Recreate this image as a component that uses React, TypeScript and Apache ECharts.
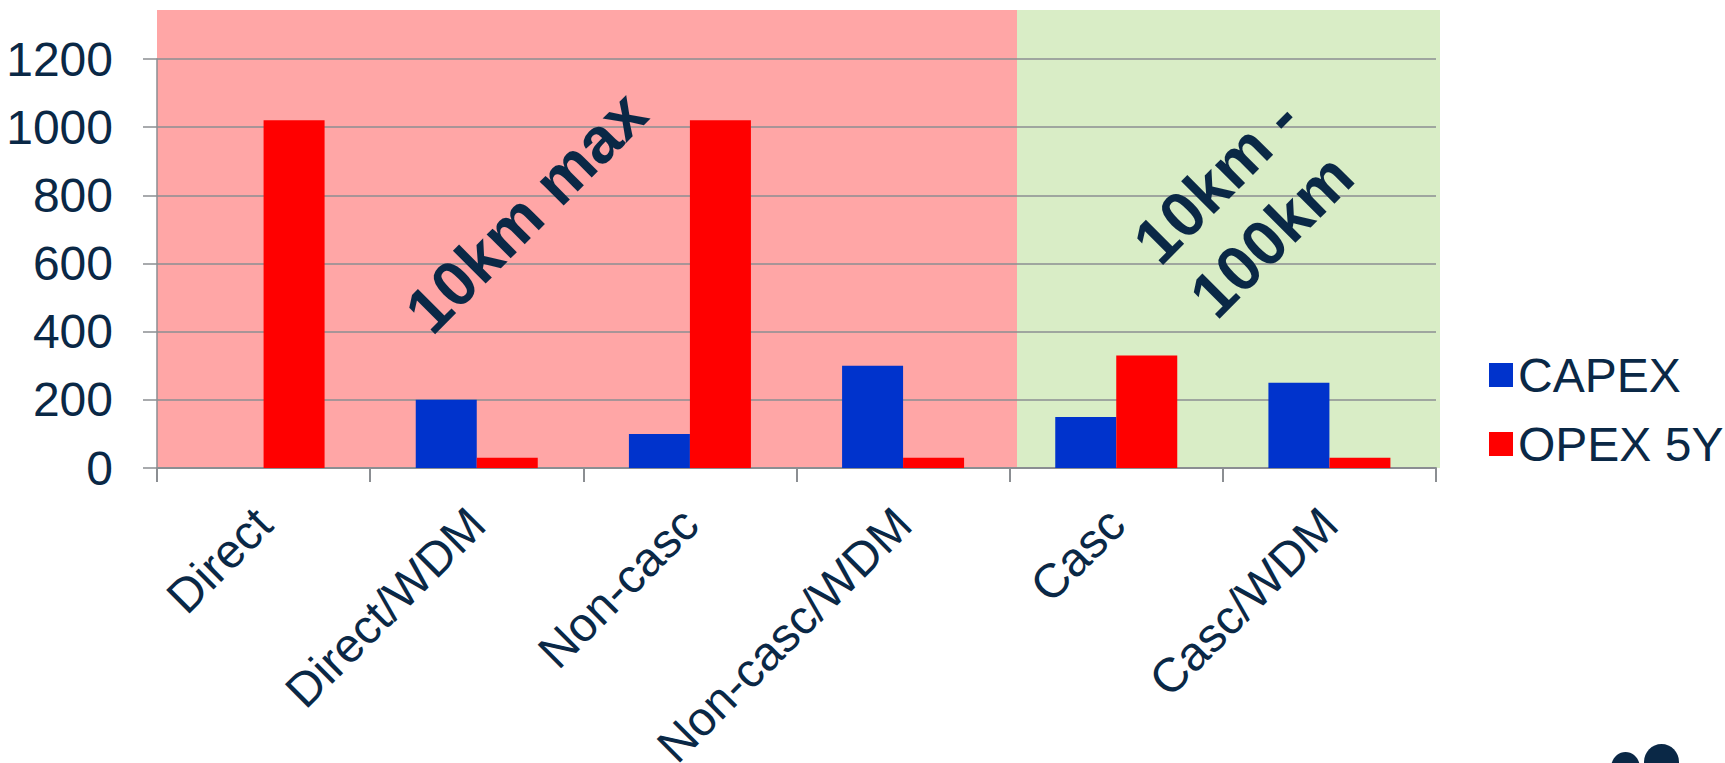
import React, { useEffect, useRef } from "react";
import * as echarts from "echarts";

const categories = ["Direct", "Direct/WDM", "Non-casc", "Non-casc/WDM", "Casc", "Casc/WDM"];
const capex = [0, 200, 100, 300, 150, 250];
const opex5y = [1020, 30, 1020, 30, 330, 30];
const seriesNames = ["CAPEX", "OPEX 5Y"];
const yTicks = { min: 0, max: 1200, interval: 200 };
const regionLabels = ["10km max", "10km -\n100km"];

const NAVY = "#0a2846";
const GRAY = "#8b8e92";
const FONT = 'Arial, "Liberation Sans", sans-serif';

export default function App() {
  const ref = useRef<HTMLDivElement>(null);
  useEffect(() => {
    if (!ref.current) return;
    const chart = echarts.init(ref.current, null, { renderer: "svg" });
    chart.setOption({
      animation: false,
      backgroundColor: "#ffffff",
      textStyle: { fontFamily: FONT },
      grid: { left: 157, right: 289, top: 59, bottom: 295, containLabel: false, outerBoundsMode: "none" },
      legend: {
        orient: "vertical",
        left: 1484,
        top: 346,
        icon: "rect",
        itemWidth: 24,
        itemHeight: 24,
        itemGap: 21,
        data: seriesNames,
        textStyle: { color: NAVY, fontSize: 48, fontFamily: FONT, lineHeight: 48 },
      },
      xAxis: {
        type: "category",
        data: categories,
        axisLine: { lineStyle: { color: GRAY, width: 2 } },
        axisTick: { show: true, length: 14, alignWithLabel: false, lineStyle: { color: GRAY, width: 2 } },
        axisLabel: { rotate: 45, interval: 0, margin: 48, fontSize: 48, color: NAVY, fontFamily: FONT },
      },
      yAxis: {
        type: "value",
        min: yTicks.min,
        max: yTicks.max,
        interval: yTicks.interval,
        axisLine: { show: true, lineStyle: { color: GRAY, width: 1.5 } },
        axisTick: { show: true, length: 14, lineStyle: { color: GRAY, width: 1.5 } },
        axisLabel: {
          margin: 44,
          fontSize: 48,
          color: NAVY,
          fontFamily: FONT,
          formatter: (v: number) => String(v),
        },
        splitLine: { show: true, lineStyle: { color: GRAY, width: 1.5 } },
      },
      graphic: [
        { type: "rect", z: -10, shape: { x: 157, y: 10, width: 860, height: 458 }, style: { fill: "#ffa6a6" } },
        { type: "rect", z: -10, shape: { x: 1017, y: 10, width: 423, height: 458 }, style: { fill: "#d9edc6" } },
        {
          type: "text",
          z: 100,
          x: 526,
          y: 212,
          rotation: Math.PI / 4,
          style: {
            text: regionLabels[0],
            fill: NAVY,
            fontSize: 64,
            fontWeight: "bold",
            fontFamily: FONT,
            align: "center",
            verticalAlign: "middle",
          },
        },
        {
          type: "text",
          z: 100,
          x: 1244,
          y: 208,
          rotation: Math.PI / 4,
          style: {
            text: regionLabels[1],
            fill: NAVY,
            fontSize: 64,
            lineHeight: 78,
            fontWeight: "bold",
            fontFamily: FONT,
            align: "center",
            verticalAlign: "middle",
          },
        },
        { type: "ellipse", z: 100, shape: { cx: 1625.5, cy: 768, rx: 14.5, ry: 16 }, style: { fill: NAVY } },
        { type: "ellipse", z: 100, shape: { cx: 1661.5, cy: 762, rx: 17.5, ry: 18 }, style: { fill: NAVY } },
      ],
      series: [
        {
          name: seriesNames[0],
          type: "bar",
          data: capex,
          barWidth: 61,
          barGap: "0%",
          itemStyle: { color: "#0033cc" },
        },
        {
          name: seriesNames[1],
          type: "bar",
          data: opex5y,
          barWidth: 61,
          barGap: "0%",
          itemStyle: { color: "#ff0000" },
        },
      ],
    });
    return () => chart.dispose();
  }, []);
  return <div ref={ref} style={{ position: "fixed", left: 0, top: 0, width: 1725, height: 763 }} />;
}
